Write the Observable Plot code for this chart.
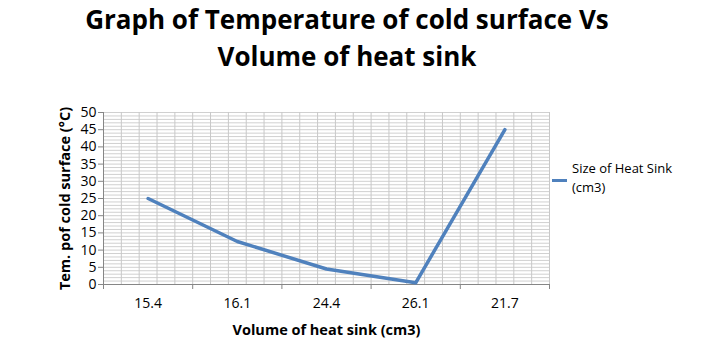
<!DOCTYPE html>
<html><head>
<meta charset="utf-8">
<script src="https://cdn.jsdelivr.net/npm/d3@7"></script>
<script src="https://cdn.jsdelivr.net/npm/@observablehq/plot@0.6"></script>
<style>
body{margin:0;background:#fff;font-family:"Open Sans",sans-serif}
#wrap{position:relative;width:713px;height:359px;overflow:hidden}
#title{width:694px;height:95px;text-align:center;font-weight:bold;font-size:26px;line-height:37px;padding-top:1px;box-sizing:border-box;color:#000}
#legend{position:absolute;left:552px;top:159px;font-size:13px;line-height:19px;color:#000}
#legend .sw{position:absolute;left:0;top:20px;width:15px;height:3px;background:#4F81BD}
#legend .tx{position:absolute;left:20px;top:0;white-space:nowrap}
</style>
</head><body>
<div id="wrap">
<div id="title">Graph of Temperature of cold surface Vs<br>Volume of heat sink</div>
<div id="chart"></div>
<div id="legend"><div class="sw"></div><div class="tx">Size of Heat Sink<br>(cm3)</div></div>
</div>
<script>
const categories = ["15.4", "16.1", "24.4", "26.1", "21.7"];
const temps = [25, 12.5, 4.5, 0.5, 45];
const yTicks = [0, 5, 10, 15, 20, 25, 30, 35, 40, 45, 50];
const seriesName = "Size of Heat Sink (cm3)";

const data = categories.map((c, i) => ({i, c, t: temps[i]}));
const hGrid = d3.range(0, 51, 1);
const vGrid = d3.range(0, 26).map(k => k / 5 - 0.5);
const bounds = d3.range(0, 6).map(k => k - 0.5);

const chart = Plot.plot({
  width: 713,
  height: 264,
  marginTop: 17,
  marginBottom: 75,
  marginLeft: 103,
  marginRight: 164,
  style: {fontFamily: "'Open Sans', sans-serif", fontSize: "14px", color: "#000", background: "#fff"},
  x: {type: "linear", domain: [-0.5, 4.5]},
  y: {domain: [0, 50]},
  marks: [
    Plot.ruleY(hGrid, {stroke: "#d0d0d0", strokeWidth: 1}),
    Plot.ruleX(vGrid, {stroke: "#c8c8c8", strokeWidth: 1}),
    Plot.ruleX([-0.5], {stroke: "#868686"}),
    Plot.ruleY([0], {stroke: "#868686"}),
    Plot.line(data, {x: "i", y: "t", stroke: "#4F81BD", strokeWidth: 3.5, strokeLinejoin: "round"}),
    Plot.axisY({ticks: yTicks, tickSize: 5, tickPadding: 2, stroke: "#868686", label: "Tem. pof cold surface (°C)", labelAnchor: "center", labelOffset: 44, fontSize: "14px"}),
    Plot.axisX({ticks: bounds, tickSize: 5, tickFormat: () => "", stroke: "#868686", label: null}),
    Plot.axisX({ticks: d3.range(0, 5), tickSize: 0, tickPadding: 14, tickFormat: i => categories[i], label: "Volume of heat sink (cm3)", labelAnchor: "center", labelOffset: 50, fontSize: "14px"})
  ]
});
document.getElementById("chart").appendChild(chart);
d3.select(chart).selectAll("[aria-label='y-axis label'] text, [aria-label='x-axis label'] text")
  .style("font-weight", "bold").style("font-size", "14.5px")
  .each(function() { this.textContent = this.textContent.replace(/[↑→↓←]/g, "").trim(); });
</script>
</body></html>
